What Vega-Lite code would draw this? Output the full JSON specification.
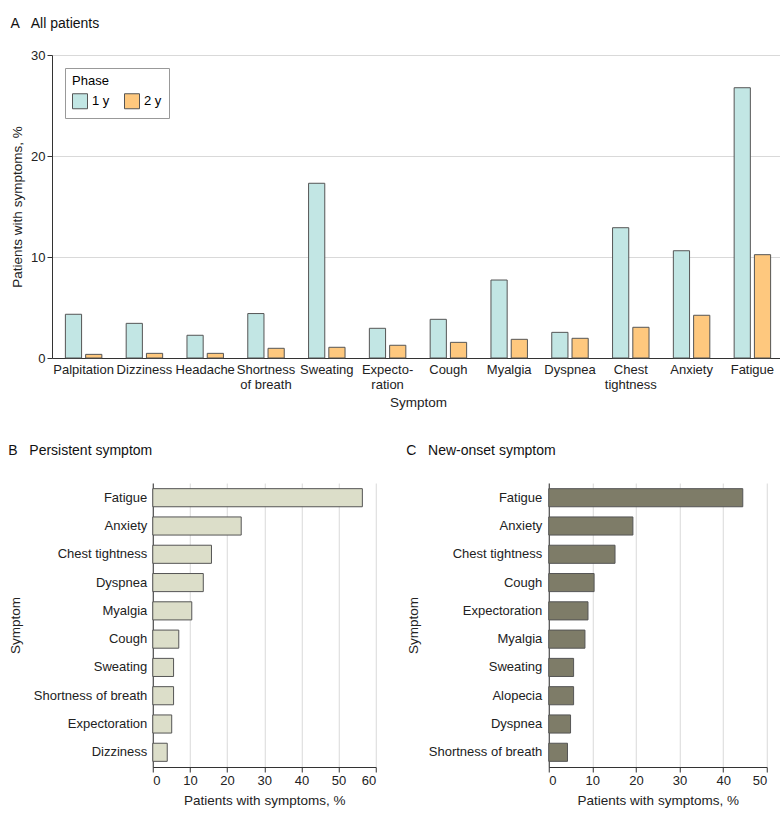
{
  "$schema": "https://vega.github.io/schema/vega-lite/v6.json",
  "padding": {"left": 8, "top": 17, "right": 2, "bottom": 5},
  "autosize": {"type": "pad"},
  "config": {
    "font": "Liberation Sans",
    "view": {"stroke": null},
    "axis": {"labelFontSize": 13, "titleFontSize": 13.5, "labelColor": "#222", "titleColor": "#222", "titleFontWeight": "normal", "domainColor": "#333", "tickColor": "#333", "gridColor": "#d9d9d9"},
    "title": {"fontSize": 14, "fontWeight": "normal", "anchor": "start", "frame": "bounds", "color": "#111"}
  },
  "datasets": {
    "allp": [
      {"symptom": "Palpitation", "phase": "1 y", "pct": 4.33},
      {"symptom": "Palpitation", "phase": "2 y", "pct": 0.36},
      {"symptom": "Dizziness", "phase": "1 y", "pct": 3.43},
      {"symptom": "Dizziness", "phase": "2 y", "pct": 0.46},
      {"symptom": "Headache", "phase": "1 y", "pct": 2.25},
      {"symptom": "Headache", "phase": "2 y", "pct": 0.46},
      {"symptom": "Shortness of breath", "phase": "1 y", "pct": 4.4},
      {"symptom": "Shortness of breath", "phase": "2 y", "pct": 0.96},
      {"symptom": "Sweating", "phase": "1 y", "pct": 17.3},
      {"symptom": "Sweating", "phase": "2 y", "pct": 1.06},
      {"symptom": "Expectoration", "phase": "1 y", "pct": 2.94},
      {"symptom": "Expectoration", "phase": "2 y", "pct": 1.26},
      {"symptom": "Cough", "phase": "1 y", "pct": 3.83},
      {"symptom": "Cough", "phase": "2 y", "pct": 1.55},
      {"symptom": "Myalgia", "phase": "1 y", "pct": 7.72},
      {"symptom": "Myalgia", "phase": "2 y", "pct": 1.85},
      {"symptom": "Dyspnea", "phase": "1 y", "pct": 2.54},
      {"symptom": "Dyspnea", "phase": "2 y", "pct": 1.95},
      {"symptom": "Chest tightness", "phase": "1 y", "pct": 12.9},
      {"symptom": "Chest tightness", "phase": "2 y", "pct": 3.04},
      {"symptom": "Anxiety", "phase": "1 y", "pct": 10.62},
      {"symptom": "Anxiety", "phase": "2 y", "pct": 4.23},
      {"symptom": "Fatigue", "phase": "1 y", "pct": 26.76},
      {"symptom": "Fatigue", "phase": "2 y", "pct": 10.23}
    ],
    "persistent": [
      {"symptom": "Fatigue", "pct": 56.4},
      {"symptom": "Anxiety", "pct": 23.8},
      {"symptom": "Chest tightness", "pct": 15.8},
      {"symptom": "Dyspnea", "pct": 13.6},
      {"symptom": "Myalgia", "pct": 10.5},
      {"symptom": "Cough", "pct": 7.0},
      {"symptom": "Sweating", "pct": 5.6},
      {"symptom": "Shortness of breath", "pct": 5.6},
      {"symptom": "Expectoration", "pct": 5.1},
      {"symptom": "Dizziness", "pct": 3.9}
    ],
    "newonset": [
      {"symptom": "Fatigue", "pct": 44.5},
      {"symptom": "Anxiety", "pct": 19.3},
      {"symptom": "Chest tightness", "pct": 15.2},
      {"symptom": "Cough", "pct": 10.4},
      {"symptom": "Expectoration", "pct": 9.0},
      {"symptom": "Myalgia", "pct": 8.3},
      {"symptom": "Sweating", "pct": 5.7},
      {"symptom": "Alopecia", "pct": 5.7},
      {"symptom": "Dyspnea", "pct": 5.0},
      {"symptom": "Shortness of breath", "pct": 4.3}
    ],
    "none": []
  },
  "spacing": 35,
  "center": true,
  "vconcat": [
    {
      "spacing": 20,
      "hconcat": [
        {
          "title": {"text": "A\u00a0\u00a0 All patients", "offset": 18},
          "width": 732,
          "height": 303,
          "data": {"name": "allp"},
          "mark": {"type": "bar", "stroke": "#555", "strokeWidth": 1},
          "encoding": {
            "x": {
              "field": "symptom", "type": "nominal", "sort": null,
              "scale": {"paddingInner": 0.4, "paddingOuter": 0.22},
              "axis": {
                "title": "Symptom", "labelAngle": 0, "ticks": false, "labelPadding": 5, "titlePadding": 4,
                "labelExpr": "datum.label == 'Shortness of breath' ? ['Shortness', 'of breath'] : datum.label == 'Expectoration' ? ['Expecto-', 'ration'] : datum.label == 'Chest tightness' ? ['Chest', 'tightness'] : datum.label"
              }
            },
            "xOffset": {"field": "phase", "type": "nominal", "scale": {"paddingInner": 0.2}},
            "y": {
              "field": "pct", "type": "quantitative",
              "scale": {"domain": [0, 30]},
              "axis": {"title": "Patients with symptoms, %", "values": [0, 10, 20, 30], "tickSize": 5, "grid": true, "titlePadding": 6}
            },
            "fill": {
              "field": "phase", "type": "nominal",
              "scale": {"domain": ["1 y", "2 y"], "range": ["#c2e6e4", "#fec87e"]},
              "legend": {
                "title": "Phase", "orient": "top-left", "direction": "horizontal", "offset": 13,
                "strokeColor": "#999", "fillColor": "white", "padding": 7,
                "symbolType": "square", "symbolSize": 225, "symbolStrokeColor": "#555", "symbolStrokeWidth": 1,
                "labelFontSize": 13, "titleFontSize": 13, "titleFontWeight": "normal", "columnPadding": 12
              }
            }
          }
        },
        {
          "width": 64,
          "height": 10,
          "data": {"name": "none"},
          "mark": "point"
        }
      ]
    },
    {
      "spacing": 29,
      "hconcat": [
        {
          "title": {"text": "B\u00a0\u00a0 Persistent symptom", "offset": 25},
          "width": 223,
          "height": 284,
          "data": {"name": "persistent"},
          "mark": {"type": "bar", "fill": "#dcdec9", "stroke": "#555", "strokeWidth": 1},
          "encoding": {
            "y": {
              "field": "symptom", "type": "nominal", "sort": null,
              "scale": {"paddingInner": 0.36, "paddingOuter": 0.2},
              "axis": {"title": "Symptom", "ticks": false, "labelPadding": 6, "titlePadding": 11}
            },
            "x": {
              "field": "pct", "type": "quantitative",
              "scale": {"domain": [0, 60]},
              "axis": {"title": "Patients with symptoms, %", "values": [0, 10, 20, 30, 40, 50, 60], "grid": true, "tickSize": 5, "titlePadding": 6}
            }
          }
        },
        {
          "title": {"text": "C\u00a0\u00a0 New-onset symptom", "offset": 25},
          "width": 218,
          "height": 284,
          "data": {"name": "newonset"},
          "mark": {"type": "bar", "fill": "#7e7c68", "stroke": "#555", "strokeWidth": 1},
          "encoding": {
            "y": {
              "field": "symptom", "type": "nominal", "sort": null,
              "scale": {"paddingInner": 0.36, "paddingOuter": 0.2},
              "axis": {"title": "Symptom", "ticks": false, "labelPadding": 7, "titlePadding": 8}
            },
            "x": {
              "field": "pct", "type": "quantitative",
              "scale": {"domain": [0, 50]},
              "axis": {"title": "Patients with symptoms, %", "values": [0, 10, 20, 30, 40, 50], "grid": true, "tickSize": 5, "titlePadding": 6}
            }
          }
        }
      ]
    }
  ]
}
